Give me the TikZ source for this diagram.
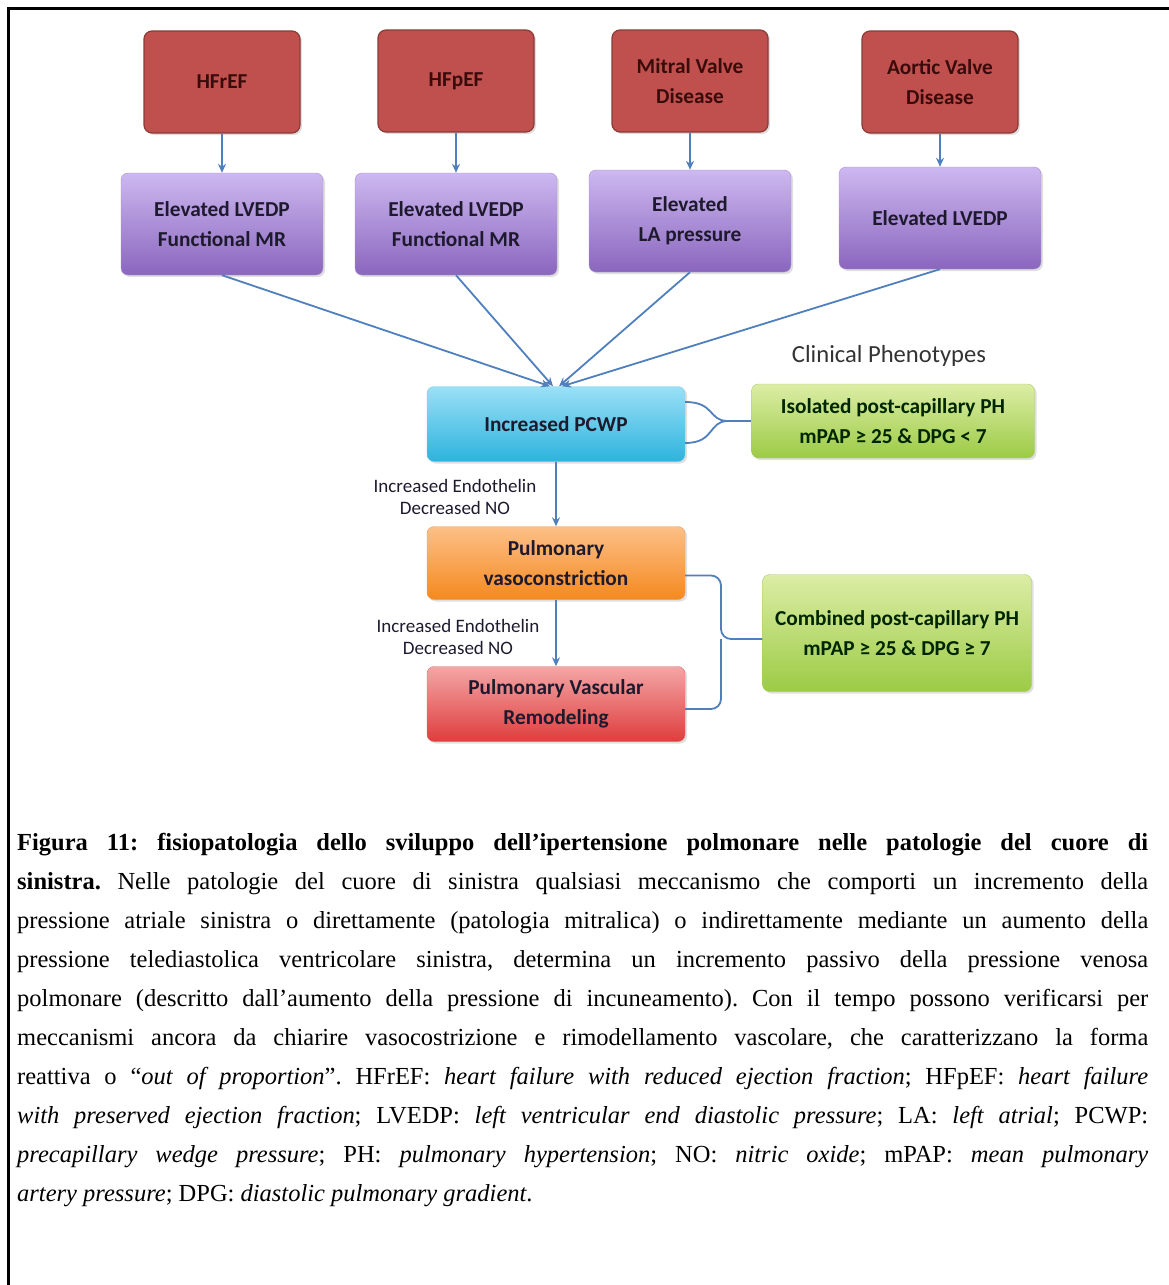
\documentclass[tikz,border=0pt]{standalone}
\usepackage{fontspec}
\setmainfont{Liberation Serif}
\newfontfamily\boxfont{Carlito}
\usetikzlibrary{arrows.meta,shadows}

\definecolor{causered}{HTML}{C0504D}
\definecolor{causeline}{HTML}{8B3A38}
\definecolor{causetext}{HTML}{3A0B0B}
\definecolor{purpletop}{HTML}{CDB8F0}
\definecolor{purplebot}{HTML}{8A66BE}
\definecolor{purpleline}{HTML}{A891CF}
\definecolor{cyantop}{HTML}{9BE0F7}
\definecolor{cyanbot}{HTML}{2DB3DD}
\definecolor{cyanline}{HTML}{7FCBE5}
\definecolor{greentop}{HTML}{DCEDA6}
\definecolor{greenbot}{HTML}{9CCB45}
\definecolor{greenline}{HTML}{A9CC6B}
\definecolor{orangetop}{HTML}{FCC088}
\definecolor{orangebot}{HTML}{F5891F}
\definecolor{orangeline}{HTML}{F0A060}
\definecolor{pinktop}{HTML}{F4A6A6}
\definecolor{pinkbot}{HTML}{DF3D3D}
\definecolor{pinkline}{HTML}{E07070}
\definecolor{linkblue}{HTML}{4F7FBD}
\definecolor{boxtext}{HTML}{1E1A2E}

\tikzset{
  softshadow/.style={drop shadow={opacity=0.25,shadow xshift=2pt,shadow yshift=-2pt}},
  boxtxt/.style={align=center, text=boxtext, font=\boxfont\bfseries\fontsize{21.3}{30}\selectfont},
  cause/.style={boxtxt, rectangle, rounded corners=8pt, fill=causered, draw=causeline,
    line width=1.2pt, minimum width=156pt, minimum height=102pt, text=causetext, softshadow},
  effect/.style={boxtxt, rectangle, rounded corners=7pt, top color=purpletop, bottom color=purplebot,
    draw=purpleline, minimum width=202pt, minimum height=102pt, softshadow},
  stage/.style={boxtxt, rectangle, rounded corners=7pt, minimum width=258pt, minimum height=75pt, softshadow},
  phenotype/.style={boxtxt, rectangle, rounded corners=7pt, top color=greentop, bottom color=greenbot,
    draw=greenline, text=black!85!green, softshadow},
  note/.style={align=center, text=boxtext, font=\boxfont\fontsize{19}{21.5}\selectfont},
  link/.style={draw=linkblue, line width=1.8pt},
  flow/.style={link, -{Stealth[length=9pt,width=8pt]}},
  caption/.style={text width=1131pt, align=justify, inner sep=0pt,
    font=\fontsize{24.5}{39}\selectfont\frenchspacing},
}

\begin{document}
\begin{tikzpicture}[x=1pt,y=-1pt]
   \useasboundingbox (0,0) rectangle (1169,1285);
   \draw[line width=3pt] (8,1285) -- (8,8) -- (1169,8);

   % causes
   \node[cause] (hfref) at (222,82) {HFrEF};
   \node[cause] (hfpef) at (456,81) {HFpEF};
   \node[cause] (mitral) at (690,81) {Mitral Valve\\Disease};
   \node[cause] (aortic) at (940,82) {Aortic Valve\\Disease};

   \node[effect] (lvedpa) at (222,224) {Elevated LVEDP\\Functional MR};
   \node[effect] (lvedpb) at (456,224) {Elevated LVEDP\\Functional MR};
   \node[effect] (lap) at (690,221) {Elevated\\LA pressure};
   \node[effect] (lvedpc) at (940,218) {Elevated LVEDP};

   \draw[flow] (hfref) -- (lvedpa);
   \draw[flow] (hfpef) -- (lvedpb);
   \draw[flow] (mitral) -- (lap);
   \draw[flow] (aortic) -- (lvedpc);

   % cascade
   \node[stage, top color=cyantop, bottom color=cyanbot, draw=cyanline] (pcwp) at (556,424) {Increased PCWP};
   \node[stage, top color=orangetop, bottom color=orangebot, draw=orangeline, minimum height=73pt] (vasoc) at (556,563) {Pulmonary\\vasoconstriction};
   \node[stage, top color=pinktop, bottom color=pinkbot, draw=pinkline] (remod) at (556,704) {Pulmonary Vascular\\Remodeling};

   \draw[flow] (lvedpa.south) -- ([xshift=-6pt]pcwp.north);
   \draw[flow] (lvedpb.south) -- ([xshift=-3pt]pcwp.north);
   \draw[flow] (lap.south) -- ([xshift=3pt]pcwp.north);
   \draw[flow] (lvedpc.south) -- ([xshift=6pt]pcwp.north);

   \node[note] (endoa) at (455,497) {Increased Endothelin\\Decreased NO};
   \node[note] (endob) at (458,637) {Increased Endothelin\\Decreased NO};
   \draw[flow] (pcwp) -- (vasoc);
   \draw[flow] (vasoc) -- (remod);

   % phenotypes
   \node[font=\boxfont\fontsize{24.6}{28}\selectfont, text=black!80] (clinical) at (889,356) {Clinical Phenotypes};
   \node[phenotype, minimum width=283pt, minimum height=74pt] (isolated) at (893,421) {Isolated post-capillary PH\\mPAP ≥ 25 \& DPG < 7};
   \node[phenotype, minimum width=269pt, minimum height=117pt] (combined) at (897,633) {Combined post-capillary PH\\mPAP ≥ 25 \& DPG ≥ 7};

   \coordinate (joina) at (728,421);
   \draw[link] ([yshift=22pt]pcwp.east) .. controls +(30,0) and +(-20,0) .. (joina)
        .. controls +(-20,0) and +(30,0) .. ([yshift=-19pt]pcwp.east);
   \draw[link] (joina) -- (joina -| isolated.west);

   \coordinate (joinb) at (721,639);
   \draw[link, rounded corners=10pt] ([yshift=-12.5pt]vasoc.east) -| (joinb) -- (joinb -| combined.west);
   \draw[link, rounded corners=10pt] ([yshift=-5pt]remod.east) -| (joinb);

   % caption
   \node[caption, anchor=base west] (legend) at (17,850) {\textbf{Figura 11: fisiopatologia dello sviluppo dell’ipertensione polmonare nelle patologie del cuore di\linebreak sinistra.} Nelle patologie del cuore di sinistra qualsiasi meccanismo che comporti un incremento della\linebreak pressione atriale sinistra o direttamente (patologia mitralica) o indirettamente mediante un aumento della\linebreak pressione telediastolica ventricolare sinistra, determina un incremento passivo della pressione venosa\linebreak polmonare (descritto dall’aumento della pressione di incuneamento). Con il tempo possono verificarsi per\linebreak meccanismi ancora da chiarire vasocostrizione e rimodellamento vascolare, che caratterizzano la forma\linebreak reattiva o “\textit{out of proportion}”. HFrEF: \textit{heart failure with reduced ejection fraction}; HFpEF: \textit{heart failure}\linebreak \textit{with preserved ejection fraction}; LVEDP: \textit{left ventricular end diastolic pressure}; LA: \textit{left atrial}; PCWP:\linebreak \textit{precapillary wedge pressure}; PH: \textit{pulmonary hypertension}; NO: \textit{nitric oxide}; mPAP: \textit{mean pulmonary}\linebreak \textit{artery pressure}; DPG: \textit{diastolic pulmonary gradient}.};
\end{tikzpicture}
\end{document}
